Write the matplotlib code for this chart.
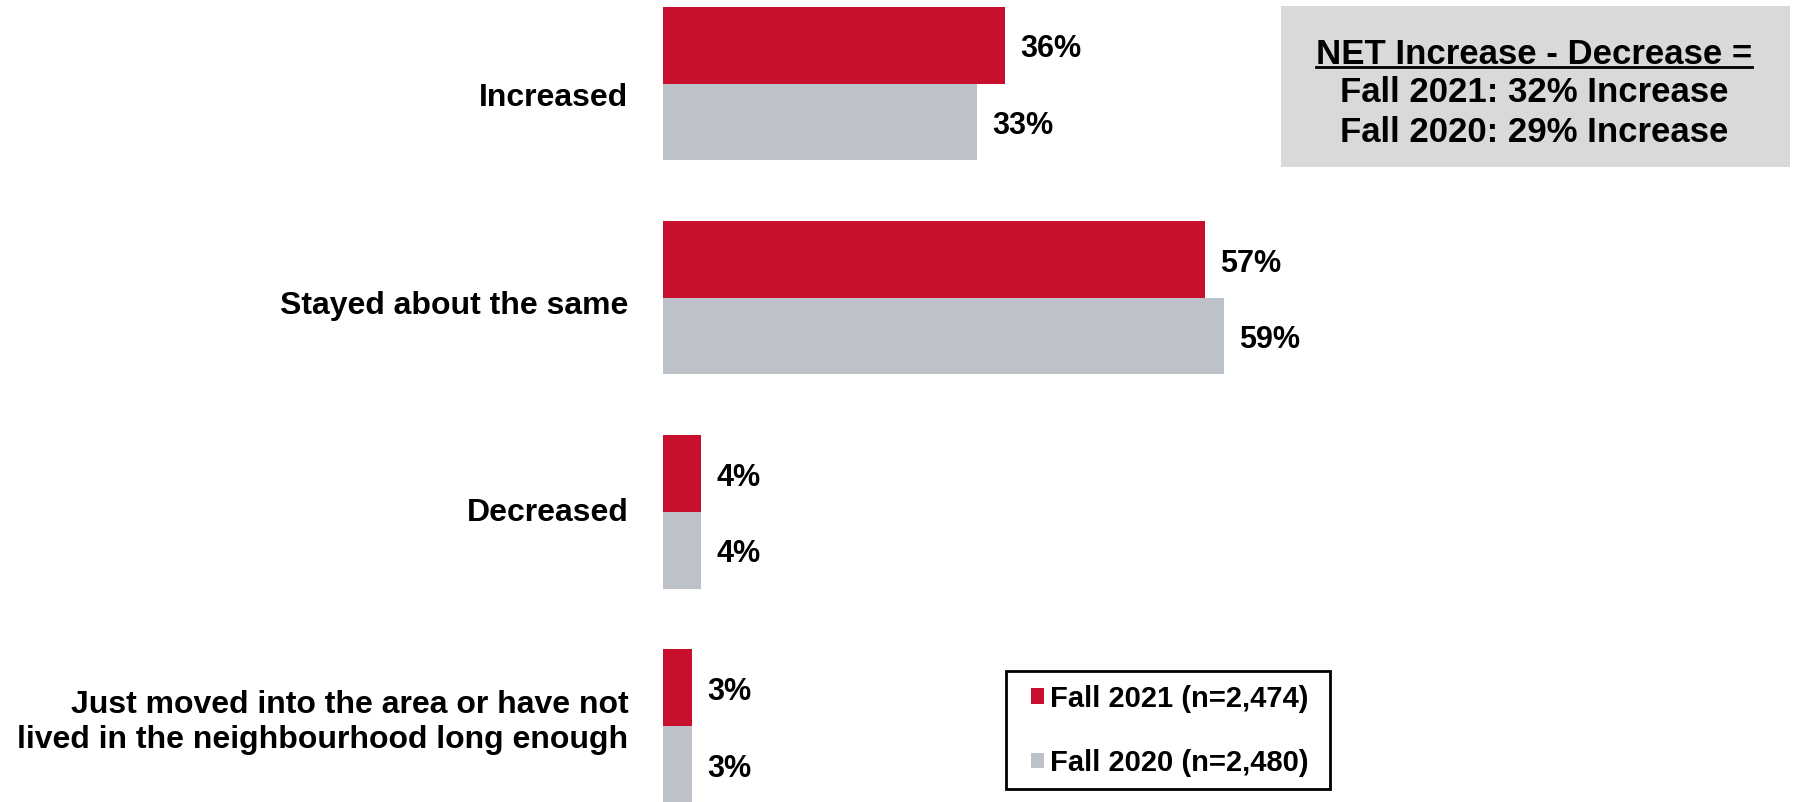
import numpy as np
import matplotlib
matplotlib.use("Agg")
import matplotlib.pyplot as plt
from matplotlib.patches import Rectangle
from matplotlib.lines import Line2D

plt.rcParams['font.family'] = ['Liberation Sans', 'DejaVu Sans']
plt.rcParams['font.weight'] = 'bold'

# data
categories = ['Increased', 'Stayed about the same', 'Decreased',
              'Just moved into the area or have not\nlived in the neighbourhood long enough']
fall2021 = [36, 57, 4, 3]
fall2020 = [33, 59, 4, 3]
series_names = ['Fall 2021 (n=2,474)', 'Fall 2020 (n=2,480)']
net_title = 'NET Increase - Decrease ='
net_lines = ['Fall 2021: 32% Increase', 'Fall 2020: 29% Increase']

red = '#C8102E'
grey = '#BCC2C8'

W, H = 1794, 802
fig = plt.figure(figsize=(W / 100, H / 100), dpi=100)
ax = fig.add_axes([663 / W, 0, (W - 663) / W, 1])

y = np.arange(len(categories))
h = 0.358
b1 = ax.barh(y - h / 2, fall2021, height=h, color=red, label=series_names[0])
b2 = ax.barh(y + h / 2, fall2020, height=h, color=grey, label=series_names[1])

for bars, vals in [(b1, fall2021), (b2, fall2020)]:
    txts = ax.bar_label(bars, labels=[f'{v}%' for v in vals], padding=11,
                        fontsize=22, fontweight='bold')
    for t in txts:
        t.xyann = (11, -3)  # labels sit a touch lower in the original

ax.set_xlim(0, (W - 663) / 9.5)
ax.set_ylim(3.354, -0.39)
# category labels are spread a little tighter than the bar groups
ax.set_yticks(y * 0.968 + 0.053, labels=categories)
ax.tick_params(axis='y', length=0, pad=25, labelsize=23)
for lab in ax.get_yticklabels():
    lab.set_fontweight('bold')
    lab.set_multialignment('right')
ax.set_xticks([])
for s in ax.spines.values():
    s.set_visible(False)

# net box
fig.patches.append(Rectangle((1281 / W, 1 - 167 / H), 509 / W, 161 / H,
                             transform=fig.transFigure, facecolor='#D9D9D9',
                             edgecolor='none', zorder=0))
cx = 1534 / W
t0 = fig.text(cx, 1 - 54 / H, net_title, ha='center', va='center', fontsize=25, fontweight='bold')
fig.text(cx, 1 - 92 / H, net_lines[0], ha='center', va='center', fontsize=25, fontweight='bold')
fig.text(cx, 1 - 132 / H, net_lines[1], ha='center', va='center', fontsize=25, fontweight='bold')

fig.canvas.draw()
bb = t0.get_window_extent().transformed(fig.transFigure.inverted())
fig.lines.append(Line2D([bb.x0, bb.x1], [1 - 67 / H, 1 - 67 / H], transform=fig.transFigure,
                        color='black', linewidth=2))

# legend: frame drawn separately so side padding can differ from top padding
fig.patches.append(Rectangle((1006 / W, 1 - 789 / H), 324 / W, 118 / H,
                             transform=fig.transFigure, facecolor='white',
                             edgecolor='black', linewidth=2, zorder=1))
leg = fig.legend(handles=[b1, b2], loc='upper left', bbox_to_anchor=(1017 / W, 1 - 671 / H),
                 fontsize=21, frameon=False,
                 handlelength=0.45, handleheight=0.45, handletextpad=0.2,
                 labelspacing=1.24, borderpad=0.47, borderaxespad=0)
leg.set_zorder(2)
for t in leg.get_texts():
    t.set_fontweight('bold')

fig.savefig('out.png', dpi=100)
